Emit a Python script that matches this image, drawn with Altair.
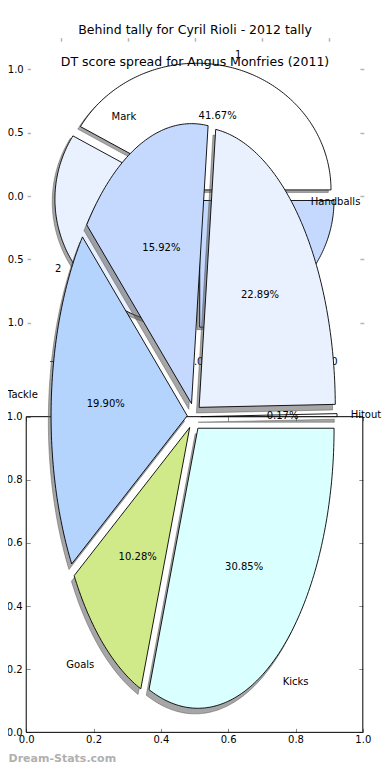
import math
import numpy as np
import pandas as pd
import altair as alt

# ---------------- data ----------------
front_labels = ["Hitout", "Handballs", "Mark", "Tackle", "Goals", "Kicks"]
front_pcts = [0.17, 22.89, 15.92, 19.90, 10.28, 30.85]
front_colors = ["#ffffff", "#eaf1fe", "#c5d9fe", "#b4d4fe", "#d0ea8a", "#d9ffff"]

back_labels = ["1", "2", "0"]
back_pcts = [41.67, 33.33, 25.00]
back_colors = ["#ffffff", "#eaf1fe", "#c5d9fe"]

back_title = "Behind tally for Cyril Rioli - 2012 tally"
front_title = "DT score spread for Angus Monfries (2011)"
watermark = "Dream-Stats.com"

back_ticks = [-1.0, -0.5, 0.0, 0.5, 1.0]
frame_ticks = [0.0, 0.2, 0.4, 0.6, 0.8, 1.0]
frame_limits = [0.0, 1.0]

# ---------------- style / layout ----------------
EXPLODE = 0.05
SHADOW = -0.02
LABEL_R = 1.1
PCT_R = 0.6
FONT = "DejaVu Sans"
W, H = 374, 758


def px(v):
    return v * W / 390.0


def py(v):
    return (v - 8.0) * H / 766.0


def wedges(labels, pcts):
    total = float(sum(pcts))
    rows, lab_rows = [], []
    start = 0.0
    for lab, p in zip(labels, pcts):
        t1 = 360.0 * start / total
        t2 = 360.0 * (start + p) / total
        start += p
        mid = math.radians((t1 + t2) / 2.0)
        cx, cy = EXPLODE * math.cos(mid), EXPLODE * math.sin(mid)
        n = max(3, int(abs(t2 - t1)) + 2)
        pts = [(cx, cy)] + [
            (cx + math.cos(math.radians(t)), cy + math.sin(math.radians(t)))
            for t in np.linspace(t1, t2, n)
        ]
        for i, (x, y) in enumerate(pts):
            rows.append(dict(slice=lab, idx=i, x=x, y=y, sx=x + SHADOW, sy=y + SHADOW))
        lx = cx + LABEL_R * math.cos(mid)
        ly = cy + LABEL_R * math.sin(mid)
        lab_rows.append(dict(
            slice=lab, pct=f"{p:.2f}%",
            lx=lx, ly=ly,
            tx=cx + PCT_R * math.cos(mid), ty=cy + PCT_R * math.sin(mid),
            side="left" if lx > 0 else "right",
        ))
    return pd.DataFrame(rows), pd.DataFrame(lab_rows)


back_df, back_lab = wedges(back_labels, back_pcts)
front_df, front_lab = wedges(front_labels, front_pcts)


def sc(dom, rng):
    return alt.Scale(domain=dom, range=rng, zero=False, nice=False)


back_x = sc([-1.25, 1.25], [px(20), px(370)])
back_y = sc([-1.25, 1.25], [py(358), py(38)])
front_x = sc([-1.0, 1.0], [px(52), px(336)])
front_y = sc([-1.0, 1.0], [py(704), py(138)])
frame_x = sc(frame_limits, [px(19), px(370)])
frame_y = sc(frame_limits, [py(740), py(421)])


def poly(df, xs, ys, xf, yf, fill, stroke, op, xaxis=None, yaxis=None, fill_scale=None):
    if fill_scale is not None:
        mk = alt.Chart(df).mark_line(
            interpolate="linear-closed", stroke=stroke, strokeWidth=0.9
        )
        fenc = alt.Fill("slice:N", scale=fill_scale, legend=None)
    else:
        mk = alt.Chart(df).mark_line(
            interpolate="linear-closed", fill=fill, fillOpacity=op,
            stroke=stroke, strokeOpacity=op, strokeWidth=0.9
        )
        fenc = alt.value(fill)
    return mk.encode(
        x=alt.X(f"{xf}:Q", scale=xs, axis=xaxis),
        y=alt.Y(f"{yf}:Q", scale=ys, axis=yaxis),
        order=alt.Order("idx:Q"),
        detail="slice:N",
        fill=fenc,
    )


def texts(df, xs, ys, xf, yf, field, align, side=None):
    c = alt.Chart(df)
    if side is not None:
        c = c.transform_filter(alt.datum.side == side)
    return c.mark_text(
        font=FONT, fontSize=10, color="black", align=align, baseline="middle"
    ).encode(
        x=alt.X(f"{xf}:Q", scale=xs, axis=None),
        y=alt.Y(f"{yf}:Q", scale=ys, axis=None),
        text=f"{field}:N",
    )


# ---------------- back figure ----------------
back_axis_bottom = alt.Axis(
    orient="bottom", values=back_ticks, format=".1f", ticks=False, domain=False,
    grid=False, labelPadding=2, offset=py(358) - H, title=None,
    labelFlush=False, labelOverlap=False,
)
back_axis_left = alt.Axis(
    orient="left", values=back_ticks, format=".1f", domain=False, grid=False,
    tickSize=px(3.5), tickColor="#b4b4b4", tickWidth=1.5, labelPadding=4,
    offset=-px(23.5), title=None, labelFlush=False, labelOverlap=False,
)
back_axis_top = alt.Axis(
    orient="top", values=back_ticks, labels=False, domain=False, grid=False,
    tickSize=3.5, tickColor="#b4b4b4", tickWidth=1.5, offset=-py(41.5), title=None,
)
back_axis_right = alt.Axis(
    orient="right", values=back_ticks, labels=False, domain=False, grid=False,
    tickSize=px(4), tickColor="#b4b4b4", tickWidth=1.5, offset=px(367) - W, title=None,
)

back_shadow = poly(back_df, back_x, back_y, "sx", "sy", "#4d4d4d", "#4d4d4d", 0.5,
                   xaxis=back_axis_top, yaxis=back_axis_right)
back_wedges = poly(back_df, back_x, back_y, "x", "y", None, "black", 1,
                   xaxis=back_axis_bottom, yaxis=back_axis_left,
                   fill_scale=alt.Scale(domain=back_labels, range=back_colors))
back_lab_l = texts(back_lab, back_x, back_y, "lx", "ly", "slice", "left", "left")
back_lab_r = texts(back_lab, back_x, back_y, "lx", "ly", "slice", "right", "right")
back_pct = texts(back_lab, back_x, back_y, "tx", "ty", "pct", "center")

# ---------------- lower frame ----------------
frame_df = pd.DataFrame({"x0": [frame_limits[0]], "x1": [frame_limits[1]],
                         "y0": [frame_limits[0]], "y1": [frame_limits[1]]})

bottom_axis_y = py(740) - 4
frame_axis_bottom = alt.Axis(
    orient="bottom", values=frame_ticks, format=".1f", domain=False, grid=False,
    tickSize=4, tickColor="#8c8c8c", tickWidth=1, labelPadding=2,
    offset=bottom_axis_y - H, labelFlush=False, labelOverlap=False,
    title=watermark, titleX=0, titleY=(H - 8) - bottom_axis_y, titleAlign="left",
    titleBaseline="middle", titleFont=FONT, titleFontSize=11, titleFontWeight="bold",
    titleColor="#b0b0b0",
)
frame_axis_left = alt.Axis(
    orient="left", values=frame_ticks, format=".1f", domain=False, grid=False,
    tickSize=4, tickColor="#8c8c8c", tickWidth=1, labelPadding=4,
    offset=-(px(19) + 4), title=None, labelFlush=False, labelOverlap=False,
)
frame_axis_top = alt.Axis(
    orient="top", values=frame_ticks, labels=False, domain=False, grid=False,
    tickSize=4, tickColor="#8c8c8c", tickWidth=1, offset=-(py(421) + 4), title=None,
)
frame_axis_right = alt.Axis(
    orient="right", values=frame_ticks, labels=False, domain=False, grid=False,
    tickSize=4, tickColor="#8c8c8c", tickWidth=1, offset=px(370) - W - 4, title=None,
)

frame = alt.Chart(frame_df).mark_rect(
    fill="white", fillOpacity=0, stroke="black", strokeWidth=1
).encode(
    x=alt.X("x0:Q", scale=frame_x, axis=frame_axis_bottom), x2="x1:Q",
    y=alt.Y("y0:Q", scale=frame_y, axis=frame_axis_left), y2="y1:Q",
)
frame2 = alt.Chart(frame_df).mark_rect(opacity=0).encode(
    x=alt.X("x0:Q", scale=frame_x, axis=frame_axis_top), x2="x1:Q",
    y=alt.Y("y0:Q", scale=frame_y, axis=frame_axis_right), y2="y1:Q",
)

# ---------------- front figure ----------------
front_shadow = poly(front_df, front_x, front_y, "sx", "sy", "#4d4d4d", "#4d4d4d", 0.5)
front_wedges = poly(front_df, front_x, front_y, "x", "y", None, "black", 1,
                    fill_scale=alt.Scale(domain=front_labels, range=front_colors))
front_lab_l = texts(front_lab, front_x, front_y, "lx", "ly", "slice", "left", "left")
front_lab_r = texts(front_lab, front_x, front_y, "lx", "ly", "slice", "right", "right")
front_pct = texts(front_lab, front_x, front_y, "tx", "ty", "pct", "center")

chart = alt.layer(
    back_shadow, back_wedges, back_lab_l, back_lab_r, back_pct,
    frame, frame2,
    front_shadow, front_wedges, front_lab_l, front_lab_r, front_pct,
).resolve_scale(
    x="independent", y="independent", fill="independent"
).properties(
    width=W, height=H, padding=0,
    autosize=alt.AutoSizeParams(type="none"),
    title=alt.TitleParams(
        text=back_title, subtitle=front_title, anchor="middle", frame="group",
        font=FONT, fontSize=12.5, fontWeight="normal", color="black",
        subtitleFont=FONT, subtitleFontSize=12.5, subtitleColor="black",
        subtitlePadding=19.5, offset=0, dy=60.5,
    ),
).configure_view(strokeWidth=0).configure_axis(
    labelFont=FONT, labelFontSize=10, labelColor="black"
)

chart.save("out.html", embed_options={"renderer": "svg", "actions": False})
